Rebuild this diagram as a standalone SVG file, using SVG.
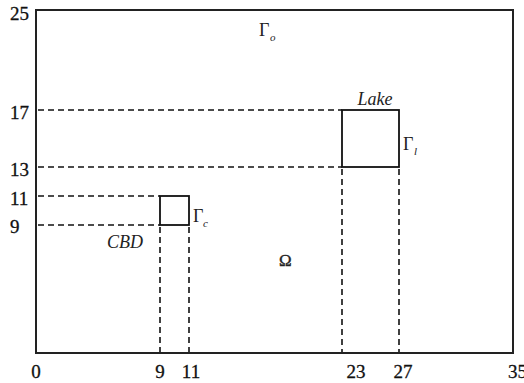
<svg xmlns="http://www.w3.org/2000/svg" width="524" height="383" viewBox="0 0 524 383">
<style>
.frame{fill:none;stroke:#222;stroke-width:2}
.sq{fill:none;stroke:#111;stroke-width:1.8}
.dash{fill:none;stroke:#111;stroke-width:1.6;stroke-dasharray:6 4}
.num{font-family:"Liberation Serif",serif;font-size:19px;fill:#111;stroke:#111;stroke-width:0.3}
.lbl{font-family:"Liberation Serif",serif;font-size:18px;font-style:italic;fill:#222}
.gam{font-family:"Liberation Serif",serif;font-size:18px;fill:#222}
.sub{font-family:"Liberation Serif",serif;font-size:11px;font-style:italic;fill:#222}
</style>
<rect width="524" height="383" fill="#fff"/>
<g id="domain">
<rect class="frame" x="36" y="10" width="477" height="343"/>
<text class="gam" x="259" y="36">Γ</text><text class="sub" x="270" y="41">o</text>
<text x="279" y="266" font-family="Liberation Serif,serif" font-size="17" fill="#222" stroke="#222" stroke-width="0.4">Ω</text>
</g>
<g id="connectors">
<path class="dash" d="M38 110H342M38 167H342M38 196H160M38 225H160"/>
<path class="dash" d="M160 227V352M189 227V352M342 169V352M399 169V352"/>
</g>
<g id="lake">
<rect class="sq" x="342" y="110" width="57" height="57"/>
<text class="lbl" x="375" y="105" text-anchor="middle">Lake</text>
<text class="gam" x="403" y="150">Γ</text><text class="sub" x="414" y="155">l</text>
</g>
<g id="cbd">
<rect class="sq" x="160" y="196" width="29" height="29"/>
<text class="lbl" x="125" y="248" text-anchor="middle">CBD</text>
<text class="gam" x="193" y="222">Γ</text><text class="sub" x="203" y="227">c</text>
</g>
<g id="axis-labels">
<text class="num" x="10" y="20">25</text>
<text class="num" x="10" y="119">17</text>
<text class="num" x="10" y="176">13</text>
<text class="num" x="10" y="205">11</text>
<text class="num" x="10" y="233">9</text>
<text class="num" x="36" y="378" text-anchor="middle">0</text>
<text class="num" x="160" y="378" text-anchor="middle">9</text>
<text class="num" x="191" y="378" text-anchor="middle">11</text>
<text class="num" x="356" y="378" text-anchor="middle">23</text>
<text class="num" x="403" y="378" text-anchor="middle">27</text>
<text class="num" x="508" y="378">35</text>
</g>
</svg>
